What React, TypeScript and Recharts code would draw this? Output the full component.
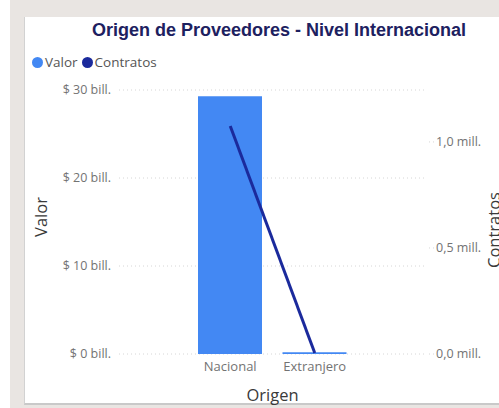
import { ComposedChart, Bar, Line, XAxis, YAxis, CartesianGrid } from 'recharts'

// Datos por origen
const origenes = ['Nacional', 'Extranjero']
const valores = [29.3e9, 0.2e9]
const contratos = [1075000, 5000]
const ticksValor = [0, 10e9, 20e9, 30e9]
const ticksContratos = [0, 500000, 1000000]

const COLOR_VALOR = '#4388f3'
const COLOR_CONTRATOS = '#1b2a9c'
const FUENTE = '"Open Sans", "Noto Sans", sans-serif'

const datos = origenes.map((o, i) => ({ origen: o, valor: valores[i], contratos: contratos[i] }))

const formatoValor = (v: number) => `$ ${Math.round(v / 1e9)} bill.`
const formatoContratos = (v: number) => `${(v / 1e6).toFixed(1).replace('.', ',')} mill.`

const EtiquetaVertical = ({ viewBox, value, dx, dy }: any) => {
  const x = viewBox.x + dx
  const y = viewBox.y + viewBox.height / 2 + dy
  return (
    <text x={x} y={y} transform={`rotate(-90, ${x}, ${y})`} textAnchor="middle" dominantBaseline="central"
      fill="#3a3a3a" fontSize={16.5} fontFamily={FUENTE}>
      {value}
    </text>
  )
}

export default function App() {
  const tick = { fontSize: 12.5, fill: '#737373', fontFamily: FUENTE }
  return (
    <div style={{ position: 'absolute', left: 0, top: 0, width: 499, height: 408, overflow: 'hidden', background: '#fff' }}>
      <div style={{ position: 'absolute', left: 10, top: 0, right: 0, bottom: 0, background: '#e9e5e2' }} />
      <div style={{ position: 'absolute', left: 24, top: 17, width: 490, height: 386, background: '#fff', borderLeft: '1px solid #d2d2d2', borderBottom: '2px solid #c9c9c9' }}>
        <div style={{ position: 'absolute', left: 0, width: 508, top: 3, textAlign: 'center', fontFamily: '"Liberation Sans", Arial, sans-serif', fontWeight: 'bold', fontSize: 18, color: '#1d2160' }}>
          Origen de Proveedores - Nivel Internacional
        </div>
        <div style={{ position: 'absolute', left: 7, top: 36, display: 'flex', alignItems: 'center', fontFamily: FUENTE, fontSize: 13.5, color: '#555' }}>
          {[['Valor', COLOR_VALOR], ['Contratos', COLOR_CONTRATOS]].map(([n, c]) => (
            <span key={n} style={{ display: 'flex', alignItems: 'center', marginRight: 4 }}>
              <span style={{ width: 11, height: 11, borderRadius: '50%', background: c, marginRight: 2, display: 'inline-block' }} />
              {n}
            </span>
          ))}
        </div>
        <ComposedChart width={480} height={388} data={datos} margin={{ top: 73, right: 0, bottom: 0, left: 0 }}>
          <CartesianGrid yAxisId="valor" vertical={false} stroke="#d6d6d6" strokeDasharray="1 3" />
          <XAxis dataKey="origen" height={51} padding={{ left: 69, right: 69 }} axisLine={false} tickLine={false}
            tick={{ ...tick, fontSize: 13 }}
            label={{ value: 'Origen', position: 'insideBottom', offset: 4, fontSize: 16.5, fill: '#3a3a3a', fontFamily: FUENTE }} />
          <YAxis yAxisId="valor" width={94} domain={[0, 30e9]} ticks={ticksValor} tickFormatter={formatoValor}
            axisLine={false} tickLine={false} tick={tick}
            label={<EtiquetaVertical value="Valor" dx={15} dy={-5} />} />
          <YAxis yAxisId="contratos" orientation="right" width={79} domain={[0, 1245000]} ticks={ticksContratos}
            tickFormatter={formatoContratos} axisLine={false} tickLine={{ stroke: '#d6d6d6', strokeDasharray: '1 3' }}
            tickSize={8} tickMargin={2} tick={tick}
            label={<EtiquetaVertical value="Contratos" dx={67} dy={8} />} />
          <Bar yAxisId="valor" dataKey="valor" fill={COLOR_VALOR} barSize={64} isAnimationActive={false} />
          <Line yAxisId="contratos" type="linear" dataKey="contratos" stroke={COLOR_CONTRATOS} strokeWidth={3}
            dot={false} activeDot={false} isAnimationActive={false} />
        </ComposedChart>
      </div>
    </div>
  )
}
